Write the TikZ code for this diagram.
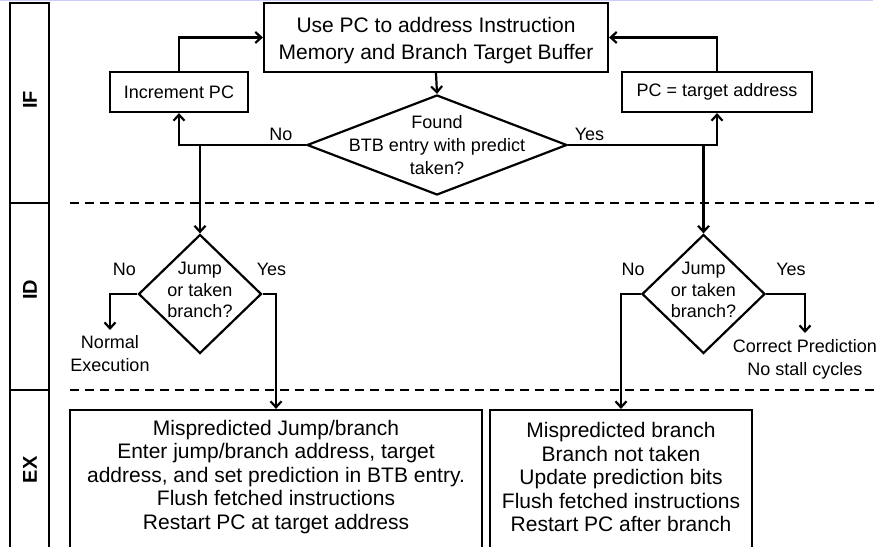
\documentclass[tikz,border=0pt]{standalone}
\usepackage{fontspec}
\setmainfont{Liberation Sans}
\usepackage{xcolor}
\usetikzlibrary{positioning,arrows.meta,shapes.geometric}

\begin{document}
\begin{tikzpicture}[
  x=1pt, y=1pt,
  font=\fontsize{18}{23}\selectfont,
  >={Straight Barb[length=6pt,width=11pt]},
  box/.style={draw, rectangle, line width=2.2pt, inner sep=0pt, align=center},
  decision/.style={draw, diamond, line width=2.2pt, inner sep=0pt},
  flow/.style={->, line width=2.2pt},
  stage/.style={font=\fontsize{20}{24}\selectfont\bfseries, rotate=90},
  sep/.style={line width=1.8pt, dash pattern=on 9pt off 6pt},
  lbl/.style={inner sep=1pt},
  txt/.style={align=center, inner sep=0pt},
  big/.style={font=\fontsize{21}{23.5}\selectfont}
]
\useasboundingbox (0,0) rectangle (880,546);
\clip (0,0) rectangle (880,546);

% Top strip
\draw[blue!20, line width=1.5pt] (0,545.25) -- (873,545.25);

% Stage bar
\draw[line width=2.2pt] (10,-20) rectangle (49,543);
\draw[line width=2.2pt] (10,343) -- (49,343);
\draw[line width=2.2pt] (10,156) -- (49,156);
\node[stage] (ifl) at (30,446) {IF};
\node[stage] (idl) at (30,256) {ID};
\node[stage] (exl) at (30,76) {EX};

% Stage separators
\draw[sep] (70,343) -- (880,343);
\draw[sep] (70,156) -- (880,156);

% IF stage
\node[box, minimum width=344pt, minimum height=69pt] (fetch) at (436,508.5) {};
\node[txt, font=\fontsize{21}{27}\selectfont] at (436,505.5)
  {Use PC to address Instruction\\Memory and Branch Target Buffer};
\node[box, minimum width=138pt, minimum height=40pt] (incpc) at (179,454) {Increment PC};
\node[box, minimum width=190pt, minimum height=40pt] (pctgt) at (717,454) {PC = target address};
\node[decision, minimum width=260pt, minimum height=100pt] (found) at (437,401) {};
\node[txt] at (found) {Found\\BTB entry with predict\\taken?};

% ID stage
\node[decision, minimum width=123pt, minimum height=119pt] (jumpa) at (200,252) {};
\node[txt, font=\fontsize{18}{21.5}\selectfont, yshift=4pt] at (jumpa) {Jump\\or taken\\branch?};
\node[decision, minimum width=123pt, minimum height=119pt] (jumpb) at (703.5,252) {};
\node[txt, font=\fontsize{18}{21.5}\selectfont, yshift=4pt] at (jumpb) {Jump\\or taken\\branch?};
\node[txt, anchor=north, inner ysep=5pt] (normal) at (110,216) {Normal\\Execution};
\node[txt, anchor=north, inner ysep=6pt] (correct) at (805,213) {Correct Prediction\\No stall cycles};

% EX stage
\node[box, minimum width=412pt, minimum height=160pt] (misa) at (276,56) {};
\node[txt, big] at (276,69) {Mispredicted Jump/branch\\Enter jump/branch address, target\\address, and set prediction in BTB entry.\\Flush fetched instructions\\Restart PC at target address};
\node[box, minimum width=262pt, minimum height=160pt] (misb) at (621,56) {};
\node[txt, big] at (621,69) {Mispredicted branch\\Branch not taken\\Update prediction bits\\Flush fetched instructions\\Restart PC after branch};

% Connectors
\coordinate (nosplit) at (jumpa.north |- found.west);
\coordinate (yessplit) at (jumpb.north |- found.east);
\draw[flow] (fetch.south) -- (found.north);
\draw[flow] (found.west) -| (incpc.south);
\draw[flow] (found.east) -| (pctgt.south);
\draw[flow] (incpc.north) |- (fetch.west);
\draw[flow] (pctgt.north) |- (fetch.east);
\draw[flow] (nosplit) -- (jumpa.north);
\draw[flow] (yessplit) -- (jumpb.north);
\draw[flow] (jumpa.west) -| (normal.north);
\draw[flow] (jumpa.east) -| (misa.north);
\draw[flow] (jumpb.west) -| (misb.north);
\draw[flow] (jumpb.east) -| (correct.north);

% Labels
\node[lbl] at (281,412) {No};
\node[lbl] at (589.5,412) {Yes};
\node[lbl] at (124.5,277) {No};
\node[lbl] at (271.5,277) {Yes};
\node[lbl] at (633,277) {No};
\node[lbl] at (791,277) {Yes};

\end{tikzpicture}
\end{document}
